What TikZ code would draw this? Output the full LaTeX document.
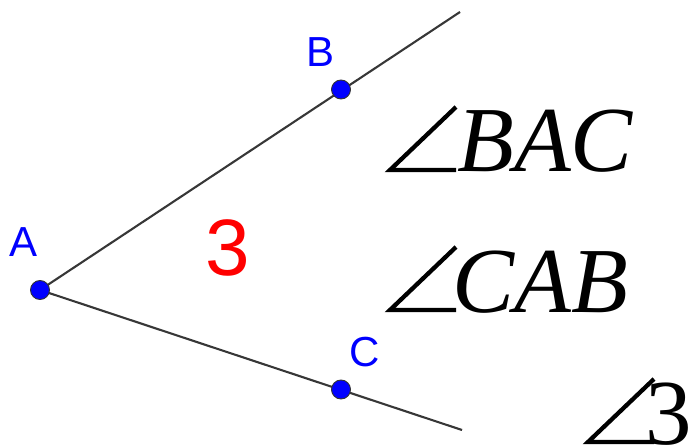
\documentclass[tikz,border=0pt]{standalone}
\usepackage{fontspec}
\setmainfont{Liberation Serif}
\newfontfamily\labelfont{Liberation Sans}
\definecolor{ptblue}{RGB}{0,0,255}
\definecolor{linegray}{RGB}{55,55,55}
\begin{document}
\begin{tikzpicture}[x=1pt,y=-1pt,
  ray/.style={draw=linegray,line width=2.1pt},
  pt/.style={circle,fill=ptblue,draw=black!80,line width=0.9pt,minimum size=19pt,inner sep=0pt},
  ptlabel/.style={text=ptblue,font=\labelfont\fontsize{42}{42}\selectfont,inner sep=0pt,anchor=center},
  anglabel/.style={font=\fontsize{93}{93}\selectfont\itshape,inner sep=0pt,anchor=base west},
  angsym/.pic={\draw[line width=4.3pt,miter limit=10] (66,-63) -- (0,0) -- (66,0);}
]
\useasboundingbox (0,0) rectangle (693,446);
\coordinate (A) at (40,290);
\coordinate (B) at (341,89.5);
\coordinate (C) at (341,389.5);
\coordinate (Bend) at (460,12);
\coordinate (Cend) at (462,430);
\draw[ray] (A) -- (Bend);
\draw[ray] (A) -- (Cend);
\node[pt] (nA) at (A) {};
\node[pt] (nB) at (B) {};
\node[pt] (nC) at (C) {};
\node[ptlabel] (lA) at (24,242) {A};
\node[ptlabel] (lB) at (321,52) {B};
\node[ptlabel] (lC) at (365,352) {C};
\node[text=red,font=\labelfont\fontsize{80}{80}\selectfont,inner sep=0pt,anchor=center] (three) at (228,248) {3};
\pic at (390,170) {angsym};
\node[anglabel] (bac) at (457,172) {BAC};
\pic at (390,310) {angsym};
\node[anglabel] (cab) at (452,312) {CAB};
\pic at (588,442) {angsym};
\node[anglabel] (a3) at (645,444) {\upshape 3};
\end{tikzpicture}
\end{document}
